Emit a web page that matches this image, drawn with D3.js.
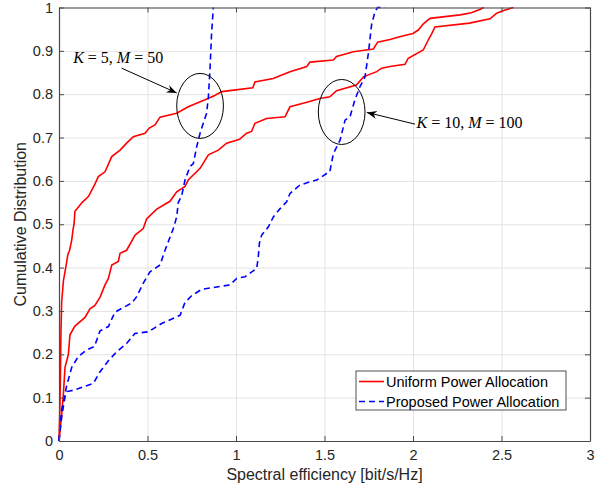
<!DOCTYPE html>
<html>
<head>
<meta charset="utf-8">
<script src="https://cdn.jsdelivr.net/npm/d3@7"></script>
<style>
  body { margin: 0; background: #fff; }
  text { font-family: "Liberation Sans", Arial, sans-serif; }
</style>
</head>
<body>
<div id="chart"></div>
<script>
// CDF curves, [spectral efficiency, cumulative prob]
const uniform_k5 = [[0,0],[0.004,0.06],[0.008,0.15],[0.011,0.25],[0.015,0.32],[0.025,0.37],[0.038,0.4],[0.05,0.43],
  [0.06,0.44],[0.072,0.464],[0.08,0.49],[0.085,0.5],[0.09,0.53],[0.11,0.54],[0.13,0.55],[0.166,0.564],[0.2,0.59],
  [0.222,0.61],[0.26,0.621],[0.298,0.656],[0.345,0.671],[0.382,0.687],[0.42,0.702],[0.486,0.71],[0.51,0.722],
  [0.542,0.729],[0.571,0.747],[0.665,0.756],[0.73,0.771],[0.825,0.787],[0.88,0.797],[0.92,0.806],[1.0,0.81],
  [1.095,0.815],[1.107,0.828],[1.21,0.836],[1.305,0.852],[1.4,0.864],[1.418,0.874],[1.55,0.879],[1.568,0.887],
  [1.663,0.898],[1.776,0.904],[1.8,0.92],[1.87,0.926],[1.93,0.933],[2.0,0.94],[2.03,0.948],[2.06,0.963],
  [2.096,0.975],[2.266,0.983],[2.33,0.988],[2.38,0.996],[2.4,1.0]]

const uniform_k10 = [[0,0],[0.015,0.06],[0.025,0.11],[0.034,0.17],[0.053,0.2],[0.062,0.245],[0.09,0.265],
  [0.147,0.285],[0.175,0.305],[0.203,0.313],[0.232,0.332],[0.26,0.36],[0.279,0.375],[0.298,0.406],[0.335,0.414],
  [0.345,0.433],[0.382,0.44],[0.43,0.475],[0.476,0.49],[0.495,0.512],[0.552,0.535],[0.627,0.553],[0.665,0.575],
  [0.712,0.587],[0.73,0.602],[0.797,0.629],[0.844,0.66],[0.9,0.671],[0.947,0.687],[1.02,0.696],[1.06,0.71],
  [1.088,0.714],[1.107,0.733],[1.173,0.744],[1.277,0.748],[1.305,0.771],[1.38,0.779],[1.475,0.79],[1.53,0.794],
  [1.568,0.808],[1.68,0.821],[1.72,0.84],[1.795,0.852],[1.823,0.86],[1.87,0.864],[1.955,0.869],[1.973,0.883],
  [2.058,0.902],[2.086,0.925],[2.106,0.94],[2.124,0.955],[2.32,0.964],[2.435,0.974],[2.473,0.987],[2.52,0.994],
  [2.567,1.0]]

const proposed_k5 = [[0,0],[0.005,0.03],[0.015,0.071],[0.03,0.1],[0.043,0.127],[0.072,0.17],[0.109,0.195],
  [0.156,0.21],[0.2,0.218],[0.232,0.254],[0.279,0.264],[0.316,0.297],[0.354,0.306],[0.41,0.318],[0.439,0.333],
  [0.476,0.364],[0.514,0.39],[0.571,0.406],[0.599,0.44],[0.646,0.49],[0.665,0.517],[0.674,0.55],[0.693,0.566],
  [0.712,0.602],[0.74,0.633],[0.759,0.64],[0.778,0.679],[0.797,0.71],[0.815,0.733],[0.834,0.756],[0.844,0.794],
  [0.853,0.856],[0.862,0.94],[0.872,1.0]]

const proposed_k10 = [[0,0],[0.005,0.02],[0.015,0.055],[0.034,0.102],[0.045,0.114],[0.09,0.118],[0.194,0.133],
  [0.232,0.16],[0.279,0.185],[0.326,0.206],[0.382,0.225],[0.429,0.248],[0.505,0.252],[0.58,0.271],[0.684,0.29],
  [0.712,0.32],[0.749,0.335],[0.806,0.35],[0.966,0.36],[1.004,0.375],[1.051,0.379],[1.117,0.398],[1.126,0.425],
  [1.132,0.456],[1.145,0.475],[1.183,0.494],[1.211,0.517],[1.249,0.536],[1.286,0.552],[1.305,0.571],[1.36,0.59],
  [1.418,0.598],[1.456,0.602],[1.512,0.617],[1.53,0.621],[1.55,0.663],[1.588,0.694],[1.616,0.74],[1.644,0.748],
  [1.672,0.787],[1.7,0.817],[1.729,0.84],[1.748,0.895],[1.766,0.96],[1.785,0.99],[1.8,1.0],[1.84,1.0]]

const xTicks = [0, 0.5, 1, 1.5, 2, 2.5, 3]
const yTicks = [0, 0.1, 0.2, 0.3, 0.4, 0.5, 0.6, 0.7, 0.8, 0.9, 1]
const legendLabels = ["Uniform Power Allocation", "Proposed Power Allocation"]

// annotation anchors in data units: ellipse centre, text position, arrow start/end
const ellipseCentres = [[0.797, 0.773], [1.597, 0.759]]
const arrowLines = [[[0.354, 0.86], [0.665, 0.803]], [[2.011, 0.731], [1.739, 0.758]]]
const annotTexts = [{x: 0.08, y: 0.872, k: "5", m: "50"}, {x: 2.02, y: 0.722, k: "10", m: "100"}]

const margin = {top: 7.5, right: 12, bottom: 45, left: 59}
const W = 602, H = 486
const width = W - margin.left - margin.right
const height = H - margin.top - margin.bottom
const axisColor = "#262626"

const svg = d3.select("#chart").append("svg")
  .attr("width", W)
  .attr("height", H)

const g = svg.append("g")
  .attr("transform", `translate(${margin.left},${margin.top})`)

const x = d3.scaleLinear().domain([0, 3]).range([0, width])
const y = d3.scaleLinear().domain([0, 1]).range([height, 0])

// grid
g.append("g")
  .attr("transform", `translate(0,${height})`)
  .call(d3.axisBottom(x).tickValues(xTicks).tickSize(-height).tickFormat(""))
  .call(a => a.select(".domain").remove())
  .selectAll("line").attr("stroke", "#e3e3e3")
g.append("g")
  .call(d3.axisLeft(y).tickValues(yTicks).tickSize(-width).tickFormat(""))
  .call(a => a.select(".domain").remove())
  .selectAll("line").attr("stroke", "#e3e3e3")

// curves
const line = d3.line().x(d => x(d[0])).y(d => y(d[1]))
const series = [
  {data: uniform_k5, color: "#ff0000", dash: null},
  {data: uniform_k10, color: "#ff0000", dash: null},
  {data: proposed_k5, color: "#0000ff", dash: "6,4"},
  {data: proposed_k10, color: "#0000ff", dash: "6,4"}
]
g.selectAll(".curve")
  .data(series)
  .enter()
  .append("path")
    .attr("class", "curve")
    .attr("d", d => line(d.data))
    .attr("fill", "none")
    .attr("stroke", d => d.color)
    .attr("stroke-width", 1.6)
    .attr("stroke-dasharray", d => d.dash)

// axes box with inward ticks
function styleAxis(a) {
  a.select(".domain").attr("stroke", "#4a4a4a").attr("stroke-width", 1.2)
  a.selectAll(".tick line").attr("stroke", "#4a4a4a")
  a.selectAll("text")
    .attr("fill", axisColor)
    .style("font-family", "'Liberation Sans', Arial, sans-serif")
    .style("font-size", "14.5px")
}
g.append("g")
  .attr("transform", `translate(0,${height})`)
  .call(d3.axisBottom(x).tickValues(xTicks).tickSize(-5).tickSizeOuter(0).tickPadding(9).tickFormat(d3.format("")))
  .call(styleAxis)
g.append("g")
  .call(d3.axisTop(x).tickValues(xTicks).tickSize(-5).tickSizeOuter(0).tickFormat(""))
  .call(styleAxis)
g.append("g")
  .call(d3.axisLeft(y).tickValues(yTicks).tickSize(-5).tickSizeOuter(0).tickPadding(6).tickFormat(d3.format("")))
  .call(styleAxis)
g.append("g")
  .attr("transform", `translate(${width},0)`)
  .call(d3.axisRight(y).tickValues(yTicks).tickSize(-5).tickSizeOuter(0).tickFormat(""))
  .call(styleAxis)

// axis labels
svg.append("text")
  .attr("text-anchor", "middle")
  .attr("x", margin.left + width / 2)
  .attr("y", 480)
  .attr("fill", axisColor)
  .style("font-size", "16px")
  .text("Spectral efficiency [bit/s/Hz]")

svg.append("text")
  .attr("text-anchor", "middle")
  .attr("transform", `translate(26,${margin.top + height / 2}) rotate(-90)`)
  .attr("fill", axisColor)
  .style("font-size", "16px")
  .text("Cumulative Distribution")

// annotations
svg.append("defs").append("marker")
  .attr("id", "arrow")
  .attr("viewBox", "-10 -5 12 10")
  .attr("markerWidth", 12)
  .attr("markerHeight", 10)
  .attr("markerUnits", "userSpaceOnUse")
  .attr("refX", 0)
  .attr("refY", 0)
  .attr("orient", "auto")
  .append("path")
    .attr("d", "M0,0 L-10,-4 L-7,0 L-10,4 Z")
    .attr("fill", "#000")

g.selectAll(".ring")
  .data(ellipseCentres)
  .enter()
  .append("ellipse")
    .attr("cx", d => x(d[0]))
    .attr("cy", d => y(d[1]))
    .attr("rx", x(0.132) - x(0))
    .attr("ry", y(0) - y(0.075))
    .attr("fill", "none")
    .attr("stroke", "#000")
    .attr("stroke-width", 1)

g.selectAll(".arrow")
  .data(arrowLines)
  .enter()
  .append("line")
    .attr("x1", d => x(d[0][0]))
    .attr("y1", d => y(d[0][1]))
    .attr("x2", d => x(d[1][0]))
    .attr("y2", d => y(d[1][1]))
    .attr("stroke", "#000")
    .attr("stroke-width", 1)
    .attr("marker-end", "url(#arrow)")

const annot = g.selectAll(".annot")
  .data(annotTexts)
  .enter()
  .append("text")
    .attr("x", d => x(d.x))
    .attr("y", d => y(d.y))
    .attr("fill", "#000")
    .style("font-family", "'Liberation Serif', 'Times New Roman', serif")
    .style("font-size", "16px")
annot.append("tspan").attr("font-style", "italic").text("K")
annot.append("tspan").text(d => " = " + d.k + ", ")
annot.append("tspan").attr("font-style", "italic").text("M")
annot.append("tspan").text(d => " = " + d.m)

// legend
const legend = svg.append("g")
legend.append("rect")
  .attr("x", 356)
  .attr("y", 371)
  .attr("width", 210)
  .attr("height", 39)
  .attr("fill", "#fff")
  .attr("stroke", axisColor)
  .attr("stroke-width", 0.8)

legend.selectAll(".leg-line")
  .data(series.filter((d, i) => i % 2 === 0))
  .enter()
  .append("line")
    .attr("x1", 359)
    .attr("x2", 384)
    .attr("y1", (d, i) => 381.5 + i * 20)
    .attr("y2", (d, i) => 381.5 + i * 20)
    .attr("stroke", d => d.color)
    .attr("stroke-width", 1.6)
    .attr("stroke-dasharray", d => d.dash)

legend.selectAll(".leg-text")
  .data(legendLabels)
  .enter()
  .append("text")
    .attr("x", 386)
    .attr("y", (d, i) => 381.5 + i * 20)
    .attr("dy", "0.35em")
    .attr("fill", "#000")
    .style("font-size", "14.5px")
    .text(d => d)
</script>
</body>
</html>
